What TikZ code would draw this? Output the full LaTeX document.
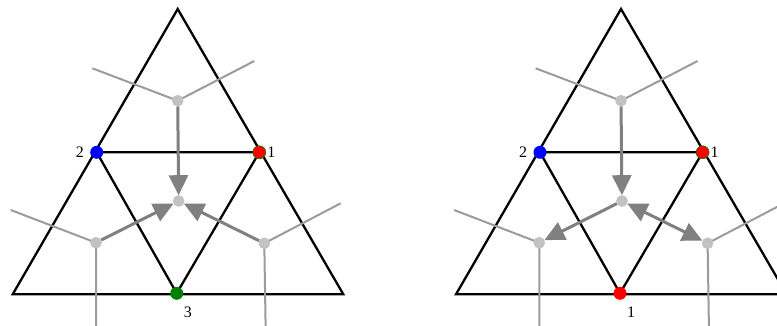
\documentclass[tikz,border=0pt]{standalone}
\usepackage{fontspec}
\setmainfont{Liberation Serif}
\usetikzlibrary{arrows.meta}
\definecolor{dualGray}{RGB}{194,194,194}
\definecolor{stubGray}{RGB}{155,155,155}
\definecolor{flowGray}{RGB}{128,128,128}
\definecolor{ptRed}{RGB}{255,0,0}
\definecolor{ptBlue}{RGB}{0,0,255}
\definecolor{ptGreen}{RGB}{0,128,0}
% triangle, its midpoint triangle, the dual graph stubs and dual vertices
\newcommand{\trimesh}[1]{%
  \coordinate (#1A) at (177.7,9);
  \coordinate (#1B) at (12.7,294.3);
  \coordinate (#1C) at (343.3,294.3);
  \coordinate (#1p) at (259.3,152.3);
  \coordinate (#1q) at (96.7,152.3);
  \coordinate (#1r) at (176.7,293.3);
  \draw[edge] (#1A) -- (#1B) -- (#1C) -- cycle;
  \draw[edge] (#1q) -- (#1p) -- (#1r) -- cycle;
  \coordinate (#1t1) at (92.3,68.3);
  \coordinate (#1t2) at (254.3,61);
  \coordinate (#1l1) at (10.7,210);
  \coordinate (#1l2) at (96,332);
  \coordinate (#1r1) at (340.7,203.3);
  \coordinate (#1r2) at (265.7,332);
  \draw[stub] (#1t1) -- (177.7,100.7) -- (#1t2);
  \draw[stub] (#1l1) -- (96,242.7) -- (#1l2);
  \draw[stub] (#1r1) -- (264.3,243.3) -- (#1r2);
  \node[dual] (#1dt) at (177.7,100.7) {};
  \node[dual] (#1dm) at (178.7,201) {};
  \node[dual] (#1dl) at (96,242.7) {};
  \node[dual] (#1dr) at (264.3,243.3) {};
}

\begin{document}
\begin{tikzpicture}[x=1pt, y=-1pt,
    edge/.style={draw=black, line width=2.3pt},
    stub/.style={draw=stubGray, line width=2pt},
    flow/.style={draw=flowGray, line width=3pt},
    tip/.tip={Triangle[length=20pt, width=19pt]},
    dual/.style={circle, fill=dualGray, draw=stubGray!60, line width=0.6pt,
                 inner sep=0pt, minimum size=11pt},
    pt/.style={circle, inner sep=0pt, minimum size=13pt},
    font=\fontsize{16}{19}\selectfont
  ]
  \useasboundingbox (0,0) rectangle (777,326);
  \clip (0,0) rectangle (777,326);

  % left picture
  \trimesh{l}
  \node[pt, fill=ptBlue, label={[inner sep=1pt, label distance=5pt]left:2}] (l2) at (lq) {};
  \node[pt, fill=ptRed, draw=ptGreen, line width=0.6pt,
        label={[inner sep=1pt]right:1}] (l1) at (lp) {};
  \node[pt, fill=ptGreen, label={[inner sep=1pt, label distance=7pt]-64:3}] (l3) at (lr) {};
  \draw[flow, -tip] (ldt) -- (ldm);
  \draw[flow, -tip] (ldl) -- (ldm);
  \draw[flow, -tip] (ldr) -- (ldm);

  % right picture
  \begin{scope}[xshift=443.3pt]
    \trimesh{r}
    \node[pt, fill=ptBlue, label={[inner sep=1pt, label distance=5pt]left:2}] (r2) at (rq) {};
    \node[pt, fill=ptRed, draw=ptGreen, line width=0.6pt,
          label={[inner sep=1pt]right:1}] (r1) at (rp) {};
    \node[pt, fill=ptRed, label={[inner sep=1pt, label distance=7pt]-64:1}] (r3) at (rr) {};
    \draw[flow, -tip] (rdt) -- (rdm);
    \draw[flow, -tip] (rdm) -- (rdl);
    \draw[flow, tip-tip] (rdm) -- (rdr);
  \end{scope}
\end{tikzpicture}
\end{document}
